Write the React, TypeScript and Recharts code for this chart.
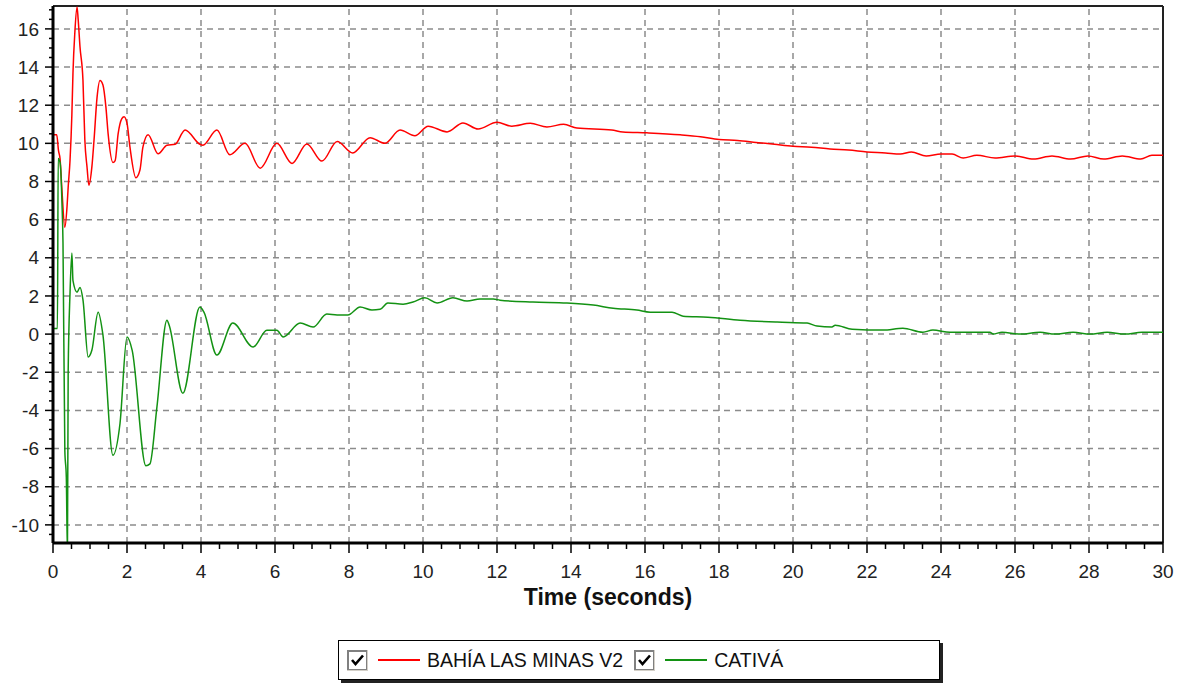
import React from "react";
import { LineChart, Line, XAxis, YAxis, ReferenceLine } from "recharts";

// BAHÍA LAS MINAS V2 (red)
const redTimes = [
  0, 0.1, 0.15, 0.19, 0.24, 0.32, 0.38, 0.41, 0.46, 0.51, 0.54, 0.59, 0.65, 0.68, 0.73, 0.81,
  0.86, 0.92, 0.97, 1.05, 1.11, 1.19, 1.27, 1.35, 1.43, 1.49, 1.62, 1.68, 1.76, 1.86, 1.92, 2.0,
  2.08, 2.24, 2.35, 2.43, 2.57, 2.84, 3.08, 3.3, 3.57, 3.97, 4.05, 4.43, 4.78, 5.19, 5.6, 6.05,
  6.46, 6.86, 7.27, 7.68, 8.1, 8.57, 8.97, 9.38, 9.78, 10.14, 10.65, 11.08, 11.49, 12.0, 12.4,
  12.9, 13.35, 13.8, 14.16, 15.1, 15.4, 16.05, 16.95, 17.5, 18.0, 18.5, 19.0, 19.5, 20.0, 20.5,
  21.0, 21.5, 22.0, 22.5, 22.9, 23.2, 23.6, 24.0, 24.3, 24.6, 24.97, 25.46, 26.0, 26.5, 27.0,
  27.5, 27.97, 28.4, 28.9, 29.4, 29.7, 30,
];
const redValues = [
  10.45, 10.45, 9.6, 9.2, 7.6, 5.6, 6.7, 7.7, 9.1, 11.5, 13.7, 15.8, 17.15, 16.5, 15.05, 13.3,
  10.2, 8.75, 7.8, 8.75, 10.2, 12.4, 13.3, 13.06, 11.9, 10.5, 9.0, 9.1, 10.5, 11.3, 11.4, 11.06,
  9.8, 8.2, 8.6, 9.8, 10.45, 9.45, 9.9, 9.95, 10.7, 9.95, 9.9, 10.7, 9.4, 10.0, 8.7, 10.0,
  8.95, 9.97, 9.07, 10.1, 9.5, 10.3, 10.0, 10.7, 10.4, 10.9, 10.6, 11.07, 10.75, 11.1, 10.9,
  11.05, 10.86, 11.0, 10.8, 10.7, 10.6, 10.55, 10.45, 10.35, 10.2, 10.15, 10.05, 9.95, 9.85, 9.8,
  9.7, 9.65, 9.55, 9.5, 9.44, 9.55, 9.34, 9.44, 9.44, 9.23, 9.38, 9.23, 9.34, 9.18, 9.34,
  9.18, 9.34, 9.18, 9.34, 9.18, 9.38, 9.38,
];

// CATIVÁ (green)
const greenTimes = [
  0, 0.12, 0.14, 0.19, 0.22, 0.24, 0.27, 0.32, 0.36, 0.39, 0.41, 0.46, 0.51, 0.54, 0.65, 0.73,
  0.81, 0.95, 1.05, 1.22, 1.35, 1.62, 1.81, 2.0, 2.14, 2.51, 2.62, 2.81, 3.08, 3.14, 3.51, 3.97,
  4.08, 4.43, 4.86, 5.41, 5.78, 6.05, 6.22, 6.68, 7.03, 7.4, 7.68, 7.97, 8.3, 8.62, 8.84, 9.05,
  9.46, 9.73, 10.05, 10.38, 10.81, 11.19, 11.54, 11.9, 12.08, 12.97, 13.89, 14.6, 15.14, 15.78,
  16.14, 16.73, 17.03, 17.7, 18.57, 19.57, 20.38, 20.65, 21.05, 21.14, 21.6, 22.43, 22.97, 23.51,
  23.78, 24.24, 25.32, 25.41, 25.65, 26.14, 26.68, 27.08, 27.57, 28.03, 28.49, 28.97, 29.43, 30,
];
const greenValues = [
  0.3, 0.3, 9.2, 9.0, 8.2, 7.0, 4.8, -6.1, -7.5, -11.5, -2, 2.15, 4.25, 2.8, 2.2, 2.45,
  1.8, -1.2, -0.85, 1.15, -0.05, -6.35, -4.7, -0.15, -0.85, -6.9, -6.8, -3.8, 0.73, 0.47, -3.1, 1.42,
  1.15, -1.1, 0.58, -0.68, 0.2, 0.2, -0.15, 0.58, 0.37, 1.05, 1.0, 1.0, 1.42, 1.26, 1.3, 1.63,
  1.57, 1.68, 1.9, 1.63, 1.9, 1.73, 1.84, 1.84, 1.78, 1.68, 1.63, 1.52, 1.36, 1.26,
  1.15, 1.15, 0.94, 0.89, 0.73, 0.63, 0.58, 0.42, 0.37, 0.47, 0.26, 0.21, 0.31, 0.1,
  0.21, 0.1, 0.1, 0, 0.1, 0, 0.1, 0, 0.1, 0, 0.1, 0, 0.1, 0.1,
];

const xLabels = [0, 2, 4, 6, 8, 10, 12, 14, 16, 18, 20, 22, 24, 26, 28, 30];
const yLabels = [-10, -8, -6, -4, -2, 0, 2, 4, 6, 8, 10, 12, 14, 16];
const xDomain: [number, number] = [0, 30];
const yDomain: [number, number] = [-10.95, 17.2];

// minor ticks every 0.5
const xTicks = Array.from({ length: 61 }, (_, i) => i * 0.5);
const yTicks = Array.from({ length: 56 }, (_, i) => -10.5 + i * 0.5);

const series = [
  { name: "BAHÍA LAS MINAS V2", color: "#ff0000", data: redTimes.map((t, i) => ({ t, v: redValues[i] })) },
  { name: "CATIVÁ", color: "#139213", data: greenTimes.map((t, i) => ({ t, v: greenValues[i] })) },
];

const FONT = "'Liberation Sans', Arial, sans-serif";
const GRID = "#8c8c8c";

const isMajor = (v: number) => Number.isInteger(v) && v % 2 === 0;

function XTick(props: any) {
  const { x, y, payload } = props;
  const major = isMajor(payload.value);
  return (
    <g>
      <line x1={x} x2={x} y1={y} y2={y + (major ? 10 : 6)} stroke="#000" strokeWidth={1.5} />
      {major && (
        <text x={x} y={y + 28} dy="0.35em" textAnchor="middle" fontSize={19} fontFamily={FONT} fill="#222">
          {payload.value}
        </text>
      )}
    </g>
  );
}

function YTick(props: any) {
  const { x, y, payload } = props;
  const major = isMajor(payload.value);
  return (
    <g>
      <line x1={x - (major ? 8 : 4)} x2={x} y1={y} y2={y} stroke="#000" strokeWidth={1.5} />
      {major && (
        <text x={x - 14} y={y} dy="0.35em" textAnchor="end" fontSize={19} fontFamily={FONT} fill="#222">
          {payload.value}
        </text>
      )}
    </g>
  );
}

function CheckBox() {
  return (
    <svg width={21} height={21} style={{ display: "block" }}>
      <rect x={0} y={0} width={21} height={21} fill="#d4d0c8" />
      <rect x={0} y={0} width={20} height={20} fill="#808080" />
      <rect x={2} y={2} width={17} height={17} fill="#fff" />
      <path d="M5 10 L8.5 14 L16 5.5" stroke="#000" strokeWidth={2.6} fill="none" />
    </svg>
  );
}

export default function App() {
  return (
    <div style={{ position: "absolute", left: 0, top: 0, width: 1179, height: 683, background: "#fff" }}>
      <LineChart width={1179} height={620} margin={{ top: 6, right: 16, left: 0, bottom: 0 }}>
        <XAxis
          dataKey="t"
          type="number"
          domain={xDomain}
          ticks={xTicks}
          interval={0}
          tickSize={0}
          tickMargin={0}
          tick={<XTick />}
          axisLine={{ stroke: "#000", strokeWidth: 3 }}
          height={77}
          allowDataOverflow
          label={{
            value: "Time (seconds)",
            position: "insideBottom",
            offset: 15,
            style: { fontFamily: FONT, fontWeight: 700, fontSize: 23, fill: "#111" },
          }}
        />
        <YAxis
          type="number"
          domain={yDomain}
          ticks={yTicks}
          interval={0}
          tickSize={0}
          tickMargin={0}
          tick={<YTick />}
          axisLine={{ stroke: "#000", strokeWidth: 3 }}
          width={53}
          allowDataOverflow
        />
        {xLabels.slice(1, -1).map((v) => (
          <ReferenceLine key={"gx" + v} x={v} stroke={GRID} strokeWidth={1.5} strokeDasharray="6 5" />
        ))}
        {yLabels.map((v) => (
          <ReferenceLine key={"gy" + v} y={v} stroke={GRID} strokeWidth={1.5} strokeDasharray="6 5" />
        ))}
        <ReferenceLine y={yDomain[1]} stroke="#222" strokeWidth={2} />
        <ReferenceLine x={xDomain[1]} stroke="#222" strokeWidth={2} />
        {series.map((s) => (
          <Line
            key={s.name}
            data={s.data}
            dataKey="v"
            name={s.name}
            type="monotone"
            stroke={s.color}
            strokeWidth={1.5}
            dot={false}
            isAnimationActive={false}
          />
        ))}
      </LineChart>
      <div
        style={{
          position: "absolute",
          left: 338,
          top: 640,
          width: 602,
          height: 40,
          border: "1px solid #000",
          boxShadow: "3px 3px 0 #222",
          display: "flex",
          alignItems: "center",
          fontFamily: FONT,
          fontSize: 19.5,
          color: "#111",
          boxSizing: "border-box",
          paddingLeft: 8,
        }}
      >
        {series.map((s) => (
          <div key={s.name} style={{ display: "flex", alignItems: "center", marginRight: 11 }}>
            <CheckBox />
            <div style={{ width: 42, height: 2, background: s.color, marginLeft: 10, marginRight: 7 }} />
            <span style={{ whiteSpace: "nowrap" }}>{s.name}</span>
          </div>
        ))}
      </div>
    </div>
  );
}
